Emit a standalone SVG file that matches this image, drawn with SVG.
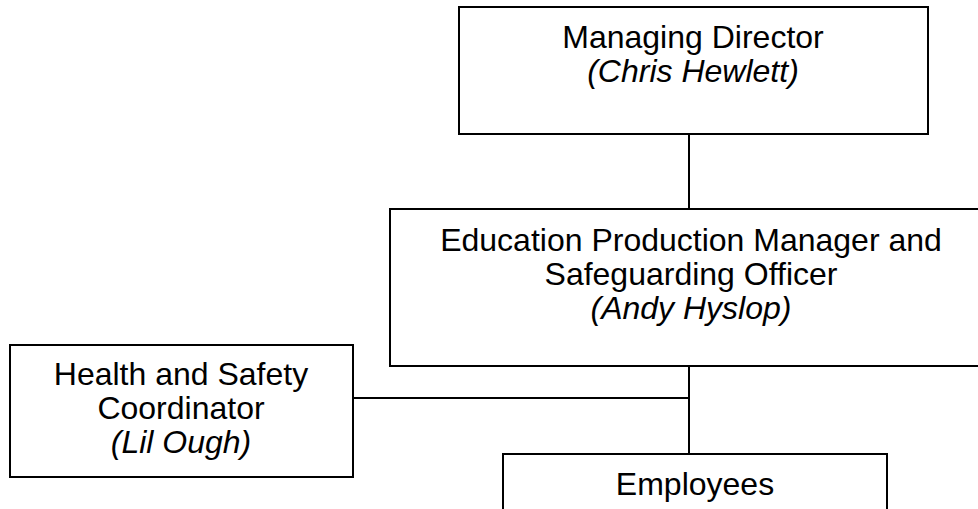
<svg xmlns="http://www.w3.org/2000/svg" width="978" height="509" viewBox="0 0 978 509">
<style>
.box{fill:#fff;stroke:#000;stroke-width:2}
.ln{stroke:#000;stroke-width:2;fill:none}
text{font-family:"Liberation Sans",Arial,sans-serif;font-size:32px;fill:#000;text-anchor:middle}
.it{font-style:italic}
</style>
<rect width="978" height="509" fill="#fff"/>
<g id="connectors">
<line class="ln" x1="689" y1="134" x2="689" y2="209"/>
<line class="ln" x1="689" y1="366" x2="689" y2="454"/>
<line class="ln" x1="353" y1="398" x2="689" y2="398"/>
</g>
<g id="managing-director">
<rect class="box" x="459" y="7" width="469" height="127"/>
<text x="693" y="48">Managing Director</text>
<text class="it" x="693" y="82">(Chris Hewlett)</text>
</g>
<g id="education-production-manager">
<rect class="box" x="390" y="209" width="620" height="157"/>
<text x="691" y="251">Education Production Manager and</text>
<text x="691" y="285">Safeguarding Officer</text>
<text class="it" x="691" y="319">(Andy Hyslop)</text>
</g>
<g id="health-safety">
<rect class="box" x="10" y="345" width="343" height="132"/>
<text x="181" y="385">Health and Safety</text>
<text x="181" y="419">Coordinator</text>
<text class="it" x="181" y="453">(Lil Ough)</text>
</g>
<g id="employees">
<rect class="box" x="503" y="454" width="384" height="80"/>
<text x="695" y="495">Employees</text>
</g>
</svg>
